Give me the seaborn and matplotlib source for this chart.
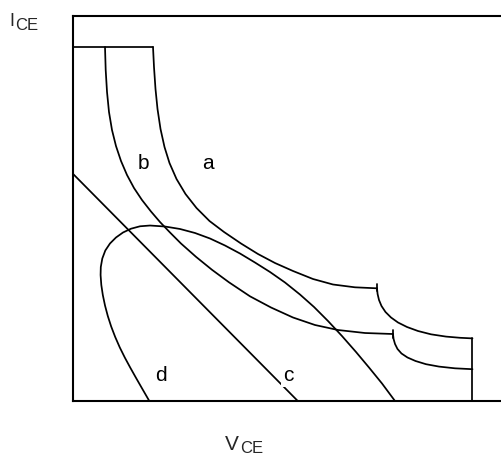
import matplotlib
matplotlib.use("Agg")
import matplotlib.pyplot as plt
import seaborn as sns

# Characteristic curves in the output plane (V_CE horizontal, I_CE vertical), 0..100 units
cap_x = [0.0, 18.65]
cap_y = [91.95, 91.95]

a_upper_x = [18.65, 18.88, 19.23, 19.70, 20.40, 21.33, 22.49, 24.13, 26.22, 28.79, 31.82,
             35.20, 39.16, 43.12, 47.09, 51.28, 55.94, 60.61, 65.73, 70.86]
a_upper_y = [91.95, 86.75, 81.04, 75.84, 70.65, 65.97, 61.82, 57.66, 53.77, 50.13, 46.75,
             43.90, 40.91, 38.18, 35.84, 33.77, 31.69, 30.26, 29.53, 29.27]
a_tick_x = [70.86, 70.86]
a_tick_y = [28.57, 30.39]
a_lower_x = [70.86, 71.00, 71.33, 71.91, 72.84, 74.13, 75.76, 77.86, 80.42, 83.45, 86.95, 90.21, 93.12]
a_lower_y = [29.27, 27.79, 26.23, 24.68, 23.12, 21.69, 20.39, 19.22, 18.18, 17.32, 16.73, 16.42, 16.26]
edge_x = [93.12, 93.12]
edge_y = [16.26, 0.0]

b_upper_x = [7.46, 7.62, 7.93, 8.39, 9.09, 10.02, 11.19, 12.59, 14.22, 16.08, 18.18, 20.28,
             22.61, 25.17, 28.67, 32.40, 36.36, 41.26, 46.15, 51.28, 56.41, 61.77, 68.07, 74.59]
b_upper_y = [91.95, 85.97, 80.26, 75.06, 70.39, 66.23, 62.34, 58.70, 55.32, 52.21, 49.22, 46.49,
             43.77, 40.91, 37.45, 34.08, 30.83, 27.19, 24.29, 21.69, 19.74, 18.44, 17.66, 17.40]
b_tick_x = [74.59, 74.59]
b_tick_y = [16.36, 18.44]
b_lower_x = [74.59, 74.73, 75.06, 75.64, 76.57, 77.97, 79.84, 82.28, 85.31, 89.04, 93.12]
b_lower_y = [17.40, 16.10, 14.81, 13.51, 12.34, 11.30, 10.39, 9.56, 8.94, 8.49, 8.26]

c_x = [0.0, 52.4]
c_y = [59.0, 0.0]

d_x = [17.79, 16.04, 14.64, 13.33, 12.07, 10.91, 9.84, 8.90, 8.11, 7.46, 6.95, 6.60, 6.43,
       6.48, 6.83, 7.53, 8.62, 10.02, 11.66, 13.52, 15.62, 17.95, 21.45, 24.94, 28.44,
       31.93, 35.43, 38.93, 42.42, 45.92, 49.42, 52.91, 56.18, 59.44, 62.70, 65.97, 69.00,
       72.03, 75.06]
d_y = [0.00, 3.38, 6.10, 8.70, 11.30, 13.90, 16.62, 19.35, 22.08, 24.81, 27.53, 30.13, 32.73,
       34.81, 37.01, 39.09, 40.91, 42.47, 43.77, 44.75, 45.38, 45.58, 45.32, 44.68, 43.64,
       42.21, 40.39, 38.31, 35.97, 33.51, 30.78, 27.66, 24.42, 20.78, 16.88, 12.73, 8.70,
       4.55, 0.00]

curve_labels = ["a", "b", "c", "d"]
label_x = [31.4, 16.5, 50.2, 20.4]
label_y = [60.3, 60.3, 5.1, 5.1]

sns.set_theme(style="white")
plt.rcParams["font.family"] = ["Liberation Sans", "DejaVu Sans"]

W, H = 502, 466
fig = plt.figure(figsize=(W / 100, H / 100), dpi=100)
ax = fig.add_axes([73 / W, 65 / H, 1 - 73 / W, (401 - 16) / H])
ax.set_xlim(0, 100)
ax.set_ylim(0, 100)

lw = 1.25
segments = [
    (cap_x, cap_y), (a_upper_x, a_upper_y), (a_tick_x, a_tick_y), (a_lower_x, a_lower_y),
    (edge_x, edge_y), (b_upper_x, b_upper_y), (b_tick_x, b_tick_y), (b_lower_x, b_lower_y),
    (c_x, c_y), (d_x, d_y),
]
for xs, ys in segments:
    sns.lineplot(x=xs, y=ys, sort=False, estimator=None, color="black", lw=lw, ax=ax)

for name, lx, ly in zip(curve_labels, label_x, label_y):
    ax.text(lx, ly, name, ha="center", va="baseline", fontsize=15, color="black", zorder=5,
            bbox=dict(facecolor="white", edgecolor="none", pad=1.5) if name == "c" else None)

for side in ["left", "top", "bottom"]:
    ax.spines[side].set_visible(True)
    ax.spines[side].set_color("black")
    ax.spines[side].set_linewidth(1.5)
ax.spines["right"].set_visible(False)
ax.set_xticks([])
ax.set_yticks([])

# Axis names with subscripts
fig.text(9.5 / W, 1 - 26 / H, "I", fontsize=13, ha="left", va="baseline")
fig.text(15.5 / W, 1 - 30 / H, "CE", fontsize=12, ha="left", va="baseline")
fig.text(225 / W, 1 - 450 / H, "V", fontsize=15, ha="left", va="baseline")
fig.text(240.5 / W, 1 - 453 / H, "CE", fontsize=12, ha="left", va="baseline")

fig.savefig("out.png", dpi=100)
